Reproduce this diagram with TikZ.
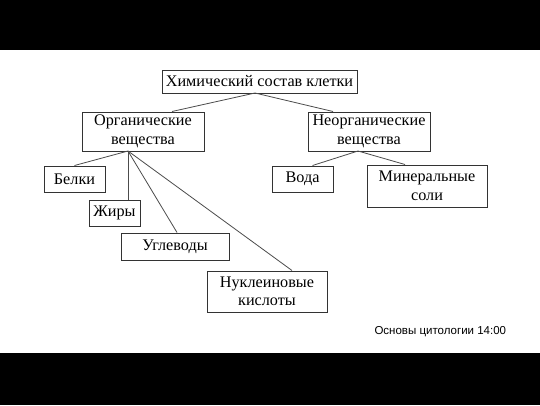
\documentclass[tikz,border=0pt]{standalone}
\usepackage{fontspec}
\setmainfont{Liberation Serif}
\newfontfamily\footfont{Liberation Sans}
\usetikzlibrary{calc}

\tikzset{
  box/.style={draw=black!80, line width=1pt, fill=white, align=center, inner sep=0pt,
    font=\fontsize{16.2}{18.5}\selectfont},
  link/.style={draw=black!70, line width=0.8pt}
}

\begin{document}
\begin{tikzpicture}[x=1pt,y=-1pt]

\useasboundingbox (0,0) rectangle (540,405);
\fill[white] (0,0) rectangle (540,405);
\fill[black] (0,0) rectangle (540,50);
\fill[black] (0,353) rectangle (540,405);

% top box
\node[box, minimum width=195pt, minimum height=23pt] (cell) at (259.5,81.5) {Химический состав клетки};

% organic and inorganic
\node[box, minimum width=122pt, minimum height=39pt] (org) at (143,131.5) {Органические\\вещества};
\node[box, minimum width=122pt, minimum height=39pt] (inorg) at (369,131.5) {Неорганические\\вещества};

% organic children
\node[box, minimum width=61pt, minimum height=26pt] (belki) at (74.5,179) {Белки};
\node[box, minimum width=51pt, minimum height=26pt] (zhiry) at (114.5,213) {Жиры};
\node[box, minimum width=108pt, minimum height=27pt] (ugl) at (175,246.5) {Углеводы};
\node[box, minimum width=120pt, minimum height=41pt] (nukl) at (267,291.5) {Нуклеиновые\\кислоты};

% inorganic children
\node[box, minimum width=61pt, minimum height=26pt] (voda) at (302.5,179) {Вода};
\node[box, minimum width=120pt, minimum height=42pt] (minsol) at (427,186) {Минеральные\\соли};

% connectors
\coordinate (cellout) at (255,93);
\coordinate (orgout) at (128,151);
\coordinate (inorgout) at (358,151);
\draw[link] (cellout) -- ($(org.north)+(29,0)$);
\draw[link] (cellout) -- ($(inorg.north)+(-36,0)$);
\draw[link] (orgout) -- (belki.north);
\draw[link] (orgout) -- (orgout |- zhiry.north);
\draw[link] (orgout) -- ($(ugl.north)+(2,0)$);
\draw[link] (orgout) -- ($(nukl.north)+(25,0)$);
\draw[link] (inorgout) -- ($(voda.north)+(10,0)$);
\draw[link] (inorgout) -- ($(minsol.north)+(-22,0)$);

% footer
\node[font=\footfont\fontsize{11.5}{14}\selectfont, anchor=west] (foot) at (371,332) {Основы цитологии 14:00};

\end{tikzpicture}
\end{document}
